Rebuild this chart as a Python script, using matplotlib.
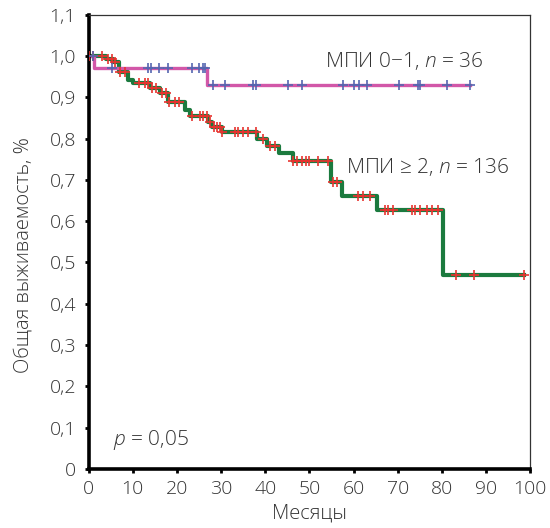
import numpy as np
import matplotlib
matplotlib.use('Agg')
import matplotlib.pyplot as plt

plt.rcParams['font.family'] = ['Open Sans', 'DejaVu Sans']
plt.rcParams['font.weight'] = 'light'
plt.rcParams['axes.labelweight'] = 'light'
plt.rcParams['mathtext.fontset'] = 'custom'
plt.rcParams['mathtext.rm'] = 'Open Sans:light'
plt.rcParams['mathtext.it'] = 'Open Sans:italic:light'

# МПИ 0-1: step times and survival levels
low_t = [0, 1.3, 26.9, 86.4]
low_s = [1.0, 0.972, 0.930, 0.930]
low_cens_t = [1.1, 5.2, 13.5, 14.1, 16.0, 18.1, 23.4, 25.1, 25.9, 26.4,
              28.1, 30.9, 37.2, 37.9, 45.2, 48.3, 57.6, 60.1, 61.3, 63.0,
              70.4, 74.5, 75.1, 81.1, 86.4]

# МПИ >= 2
high_t = [0, 3.9, 5.6, 7.0, 9.0, 10.1, 13.9, 16.2, 18.1, 21.8, 23.0, 27.0,
          28.0, 30.2, 38.1, 40.4, 43.2, 46.4, 54.9, 57.3, 65.2, 80.2, 98.5]
high_s = [1.0, 0.993, 0.985, 0.962, 0.942, 0.934, 0.922, 0.910, 0.889, 0.869,
          0.855, 0.841, 0.829, 0.815, 0.799, 0.782, 0.764, 0.746, 0.696,
          0.661, 0.627, 0.470, 0.470]
high_cens_t = [0, 1.1, 3.0, 4.5, 5.2, 6.0, 7.1, 8.2, 11.5, 12.8, 13.5, 14.3,
               15.3, 16.6, 17.5, 18.3, 19.6, 20.5, 23.4, 25.2, 26.0, 26.8,
               27.4, 28.3, 29.0, 29.8, 30.2, 33.2, 33.9, 35.0, 36.2, 37.9,
               39.6, 41.1, 42.2, 46.4, 47.3, 48.3, 49.2, 50.0, 52.0, 54.3,
               55.3, 56.2, 61.1, 62.2, 63.8, 67.2, 67.9, 69.0, 73.2, 73.9,
               75.1, 76.6, 77.7, 79.2, 83.2, 87.2, 98.5]


def level_at(t_steps, s_steps, t):
    idx = np.searchsorted(t_steps, t, side='right') - 1
    return np.array(s_steps)[idx]


fig = plt.figure(figsize=(5.5, 5.28), dpi=100)
ax = fig.add_axes([0.161, 0.112, 0.803, 0.860])

ax.step(high_t, high_s, where='post', color='#1b7a3e', lw=3.0, zorder=2)
ax.plot(high_cens_t, level_at(high_t, high_s, high_cens_t), '+', color='#e8332f',
        ms=7, mew=1.2, zorder=3)

ax.step(low_t, low_s, where='post', color='#d257a8', lw=2.4, zorder=2)
ax.plot(low_cens_t, level_at(low_t, low_s, low_cens_t), '+', color='#5566b0',
        ms=7, mew=1.2, zorder=3)

ax.set_xlim(0, 100)
ax.set_ylim(0, 1.1)
ax.set_xticks(np.arange(0, 101, 10))
ax.set_yticks(np.arange(0, 1.11, 0.1))
ax.set_yticklabels(['0'] + [f'{v:.1f}'.replace('.', ',') for v in np.arange(0.1, 1.11, 0.1)])

for side in ['left', 'bottom']:
    ax.spines[side].set_linewidth(2.6)
    ax.spines[side].set_color('black')
for side in ['top', 'right']:
    ax.spines[side].set_linewidth(0.9)
    ax.spines[side].set_color('#333333')
ax.tick_params(axis='both', direction='out', length=3, width=2, color='black',
               labelsize=14, labelcolor='#333333')
ax.tick_params(axis='y', pad=6)
ax.tick_params(axis='x', pad=5)

ax.set_xlabel('Месяцы', fontsize=14.5, color='#333333', labelpad=4)
ax.set_ylabel('Общая выживаемость, %', fontsize=14.5, color='#333333')
ax.yaxis.set_label_coords(-0.124, 0.47)

ax.text(53.6, 0.989, 'МПИ 0−1, $n$ = 36', fontsize=15, color='#333333', va='center')
ax.text(58.3, 0.732, 'МПИ ≥ 2, $n$ = 136', fontsize=15, color='#333333', va='center')
ax.text(5.5, 0.07, '$p$ = 0,05', fontsize=15, color='#333333', va='center')

fig.savefig('out.png', dpi=100)
